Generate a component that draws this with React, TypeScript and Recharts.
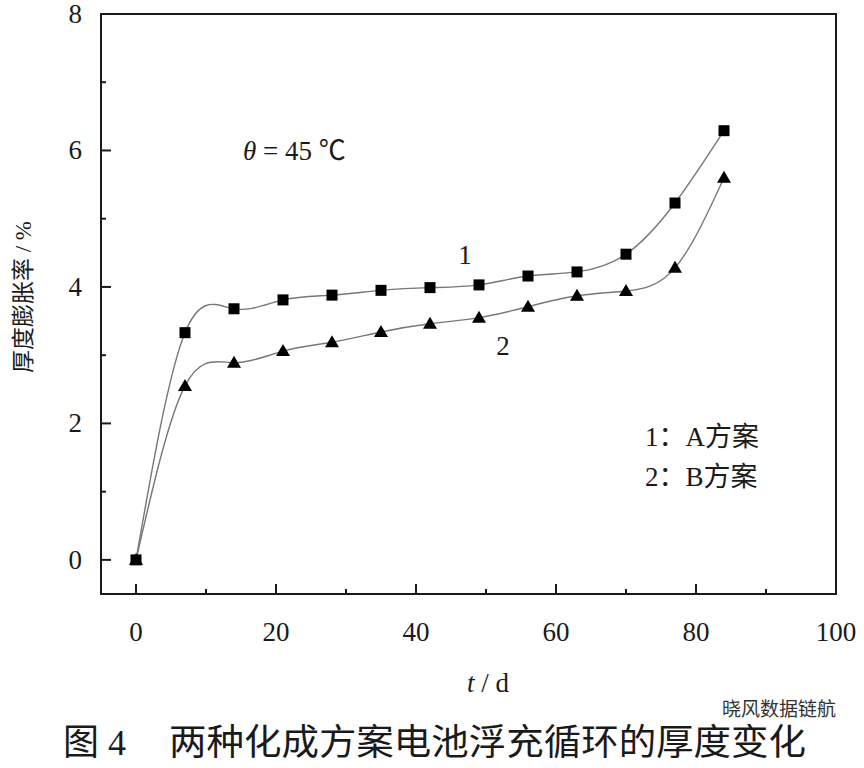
import { LineChart, Line, XAxis, YAxis, ReferenceArea } from 'recharts';

// days of float charging
const days = [0, 7, 14, 21, 28, 35, 42, 49, 56, 63, 70, 77, 84];
// thickness swelling rate (%)
const planA = [0, 3.33, 3.68, 3.81, 3.88, 3.95, 3.99, 4.03, 4.16, 4.22, 4.48, 5.23, 6.29];
const planB = [0, 2.55, 2.89, 3.06, 3.19, 3.34, 3.46, 3.55, 3.71, 3.87, 3.94, 4.28, 5.6];

const xTicks = [0, 10, 20, 30, 40, 50, 60, 70, 80, 90, 100];
const yTicks = [0, 1, 2, 3, 4, 5, 6, 7, 8];

const data = days.map((d, i) => ({ day: d, a: planA[i], b: planB[i] }));

const FONT = "'Liberation Serif', 'Noto Sans CJK SC', serif";
const INK = '#1a1a1a';

const XTick = (props: any) => {
  const { x, y, payload } = props;
  const major = payload.value % 20 === 0;
  return (
    <g>
      <line x1={x} x2={x} y1={y} y2={y - (major ? 10 : 5)} stroke={INK} strokeWidth={2} />
      {major && (
        <text x={x} y={y + 47} textAnchor="middle" fontSize={27} fontFamily={FONT} fill={INK}>
          {payload.value}
        </text>
      )}
    </g>
  );
};

const YTick = (props: any) => {
  const { x, y, payload } = props;
  const major = payload.value % 2 === 0;
  return (
    <g>
      <line x1={x} x2={x + (major ? 10 : 5)} y1={y} y2={y} stroke={INK} strokeWidth={2} />
      {major && (
        <text x={x - 19} y={y + 9} textAnchor="end" fontSize={27} fontFamily={FONT} fill={INK}>
          {payload.value}
        </text>
      )}
    </g>
  );
};

const squareDot = (p: any) => (
  <rect key={`sq-${p.index}`} x={p.cx - 5.5} y={p.cy - 5.5} width={11} height={11} fill="#000" />
);

const triangleDot = (p: any) => (
  <path
    key={`tr-${p.index}`}
    d={`M${p.cx},${p.cy - 7} L${p.cx + 7},${p.cy + 5} L${p.cx - 7},${p.cy + 5} Z`}
    fill="#000"
  />
);

export default function App() {
  return (
    <div style={{ position: 'absolute', left: 0, top: 0, width: 864, height: 768, background: '#fff' }}>
      <LineChart
        width={864}
        height={768}
        data={data}
        margin={{ top: 14, right: 28, bottom: 114, left: 41 }}
      >
        <XAxis
          type="number"
          dataKey="day"
          domain={[-5, 100]}
          ticks={xTicks}
          allowDataOverflow
          axisLine={false}
          tickLine={false}
          tickSize={0}
          tickMargin={0}
          height={60}
          tick={(p: any) => <XTick {...p} />}
          interval={0}
        />
        <YAxis
          type="number"
          domain={[-0.5, 8]}
          ticks={yTicks}
          allowDataOverflow
          axisLine={false}
          tickLine={false}
          tickSize={0}
          tickMargin={0}
          width={60}
          tick={(p: any) => <YTick {...p} />}
          interval={0}
        />
        <ReferenceArea x1={-5} x2={100} y1={-0.5} y2={8} fill="none" stroke={INK} strokeWidth={2} />
        <Line
          type="natural"
          dataKey="a"
          stroke="#777"
          strokeWidth={1.4}
          dot={squareDot}
          activeDot={false}
          isAnimationActive={false}
        />
        <Line
          type="natural"
          dataKey="b"
          stroke="#777"
          strokeWidth={1.4}
          dot={triangleDot}
          activeDot={false}
          isAnimationActive={false}
        />
      </LineChart>
      <svg
        width={864}
        height={768}
        style={{ position: 'absolute', left: 0, top: 0, pointerEvents: 'none' }}
        fontFamily={FONT}
        fill={INK}
      >
        <text x={243} y={160} fontSize={27}>
          <tspan fontStyle="italic">θ</tspan> = 45 ℃
        </text>
        <text x={465} y={264} fontSize={27} textAnchor="middle">1</text>
        <text x={503} y={355} fontSize={27} textAnchor="middle">2</text>
        <text x={645} y={446} fontSize={27}>1：A方案</text>
        <text x={645} y={486} fontSize={27}>2：B方案</text>
        <text
          transform="translate(31,297) rotate(-90)"
          textAnchor="middle"
          fontSize={23}
        >
          厚度膨胀率 / %
        </text>
        <text x={488} y={692} fontSize={27} textAnchor="middle">
          <tspan fontStyle="italic">t</tspan> / d
        </text>
        <text x={63} y={755} fontSize={36}>图 4</text>
        <text x={169} y={755} fontSize={36} textLength={637} lengthAdjust="spacingAndGlyphs">
          两种化成方案电池浮充循环的厚度变化
        </text>
        <text
          x={722}
          y={716}
          fontSize={19}
          fill="#333"
          stroke="#fff"
          strokeWidth={4}
          paintOrder="stroke"
        >
          晓风数据链航
        </text>
      </svg>
    </div>
  );
}
